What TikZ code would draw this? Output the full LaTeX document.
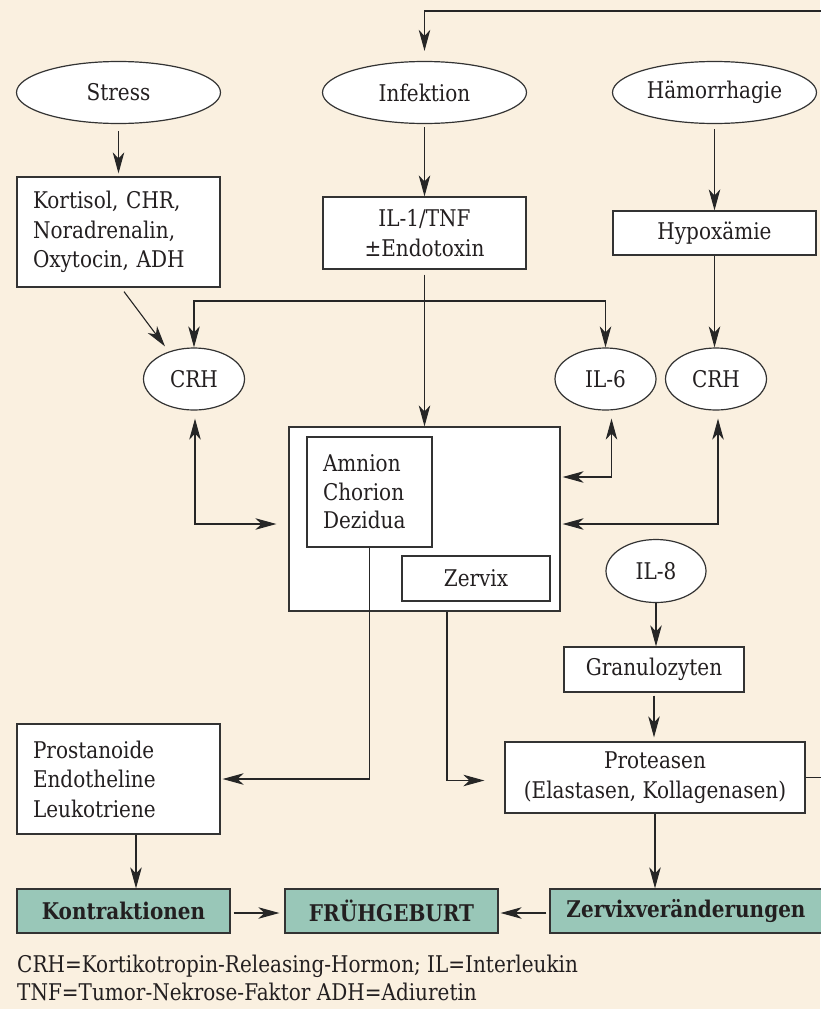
\documentclass[tikz,border=0pt]{standalone}
\usepackage{fontspec}
\setmainfont[FakeStretch=0.87]{DejaVu Serif}
\usetikzlibrary{shapes.geometric,arrows.meta,calc}
\definecolor{bgcol}{RGB}{250,240,224}
\definecolor{tealbox}{RGB}{153,199,184}
\definecolor{ink}{RGB}{35,31,32}
\begin{document}
\begin{tikzpicture}[x=1pt,y=-1pt,
  txt/.style={font=\fontsize{23}{29.5}\selectfont, text=ink},
  box/.style={txt, draw=black!80, fill=white, line width=1.2pt, rectangle, inner sep=0pt, align=center},
  lbox/.style={box, align=left, inner xsep=16pt, text width=#1},
  ell/.style={txt, draw=black!80, fill=white, line width=1.2pt, ellipse, inner sep=0pt},
  gbox/.style={box, fill=tealbox, font=\fontsize{23}{26}\selectfont\bfseries},
  tip/.tip={Stealth[length=21pt,width=11.5pt,inset=6pt]},
  arr/.style={-tip, line width=1.1pt, draw=black!85},
  barr/.style={tip-tip, line width=1.1pt, draw=black!85}
]
\fill[bgcol] (0,0) rectangle (820,1009);
\useasboundingbox (0,0) rectangle (820,1009);

% top row
\node[ell, minimum width=204pt, minimum height=62pt] (stress) at (118.5,92.5) {Stress};
\node[ell, minimum width=204pt, minimum height=62pt] (infekt) at (424.5,92.5) {Infektion};
\node[ell, minimum width=204pt, minimum height=62pt] (haemo) at (714.5,92.5) {Hämorrhagie};

\node[lbox=171pt, minimum height=110pt] (kort) at (118.5,232) {Kortisol, CHR,\\Noradrenalin,\\Oxytocin, ADH};
\node[box, minimum width=203pt, minimum height=72pt] (il1) at (424.5,233) {IL-1/TNF\\±Endotoxin};
\node[box, minimum width=203pt, minimum height=44pt] (hypox) at (714.5,233) {Hypoxämie};

\node[ell, minimum width=101pt, minimum height=62pt] (crhL) at (194,379) {CRH};
\node[ell, minimum width=101pt, minimum height=62pt] (il6) at (605.5,379) {IL-6};
\node[ell, minimum width=101pt, minimum height=62pt] (crhR) at (716,379) {CRH};

\node[box, minimum width=271pt, minimum height=184pt] (big) at (424.5,519) {};
\node[lbox=93pt, minimum height=110pt, font=\fontsize{23}{28.5}\selectfont] (amnion) at (369.5,492) {Amnion\\Chorion\\Dezidua};
\node[box, minimum width=148pt, minimum height=45pt] (zervix) at (476,578.5) {Zervix};

\node[ell, minimum width=100pt, minimum height=63pt] (il8) at (656,571) {IL-8};
\node[box, minimum width=180pt, minimum height=45pt] (granu) at (654,669.5) {Granulozyten};
\node[box, minimum width=300pt, minimum height=71pt] (prot) at (655,777.5) {Proteasen\\(Elastasen, Kollagenasen)};
\node[lbox=171pt, minimum height=110pt] (prost) at (118.5,779) {Prostanoide\\Endotheline\\Leukotriene};

\node[gbox, minimum width=213pt, minimum height=44pt] (kontr) at (123.5,911) {Kontraktionen};
\node[gbox, minimum width=213pt, minimum height=44pt] (frueh) at (391.5,911) {FRÜHGEBURT};
\node[gbox, minimum width=272pt, minimum height=44pt] (zverae) at (686,911) {Zervixveränderungen};

\node[txt, anchor=base west, inner sep=0pt] (fn1) at (17,972) {CRH=Kortikotropin-Releasing-Hormon; IL=Interleukin};
\node[txt, anchor=base west, inner sep=0pt] (fn2) at (17,1000) {TNF=Tumor-Nekrose-Faktor ADH=Adiuretin};

% connectors
\draw[arr, shorten <=7pt, shorten >=3pt] (stress.south) -- (kort.north);
\draw[arr, shorten <=3pt] (infekt.south) -- (il1.north);
\draw[arr, shorten <=5pt] (haemo.south) -- (hypox.north);
\draw[arr, shorten <=5pt] (il1.south) -- (big.north);

\coordinate (hl) at (0,301);
\coordinate (br) at (il1.south |- hl);
\draw[arr] (br) -| (crhL.north);
\draw[arr] (br) -| (il6.north);
\draw[arr] ([shift={(5.5,4)}]kort.south) -- ([shift={(-29,-1)}]crhL.north);
\draw[arr] (hypox.south) -- (hypox.south |- crhR.north);

\draw[barr] ([shift={(1,8)}]crhL.south) |- ([shift={(-12,5)}]big.west);
\draw[barr] ([shift={(6,8)}]il6.south) |- ([shift={(2,-42)}]big.east);
\draw[barr] ([shift={(2,8)}]crhR.south) |- ([shift={(2,5)}]big.east);

\draw[arr] (il8.south) -- (il8.south |- granu.north);
\draw[arr, shorten <=3pt, shorten >=4pt] (granu.south) -- (granu.south |- prot.north);
\draw[arr] (prot.south) -- (prot.south |- zverae.north);

\draw[arr] (amnion.south) |- ([xshift=2pt]prost.east);
\coordinate (zs) at ([xshift=-29pt]zervix.south);
\draw[arr] (zs |- big.south) |- ([shift={(-20,3)}]prot.west);

\coordinate (ps) at ([xshift=17.5pt]prost.south);
\draw[arr] (ps) -- (ps |- kontr.north);
\draw[arr, shorten <=3pt, shorten >=5pt] ([yshift=-2pt]kontr.east) -- ([yshift=-2pt]frueh.west);
\draw[arr, shorten <=3pt, shorten >=2pt] ([yshift=-2pt]zverae.west) -- ([yshift=-2pt]frueh.east);

\coordinate (offR) at (835,0);
\coordinate (topY) at (0,11);
\draw[arr, shorten >=10pt] (prot.east) -- (prot.east -| offR) |- (topY -| infekt.north) -- (infekt.north);
\end{tikzpicture}
\end{document}
